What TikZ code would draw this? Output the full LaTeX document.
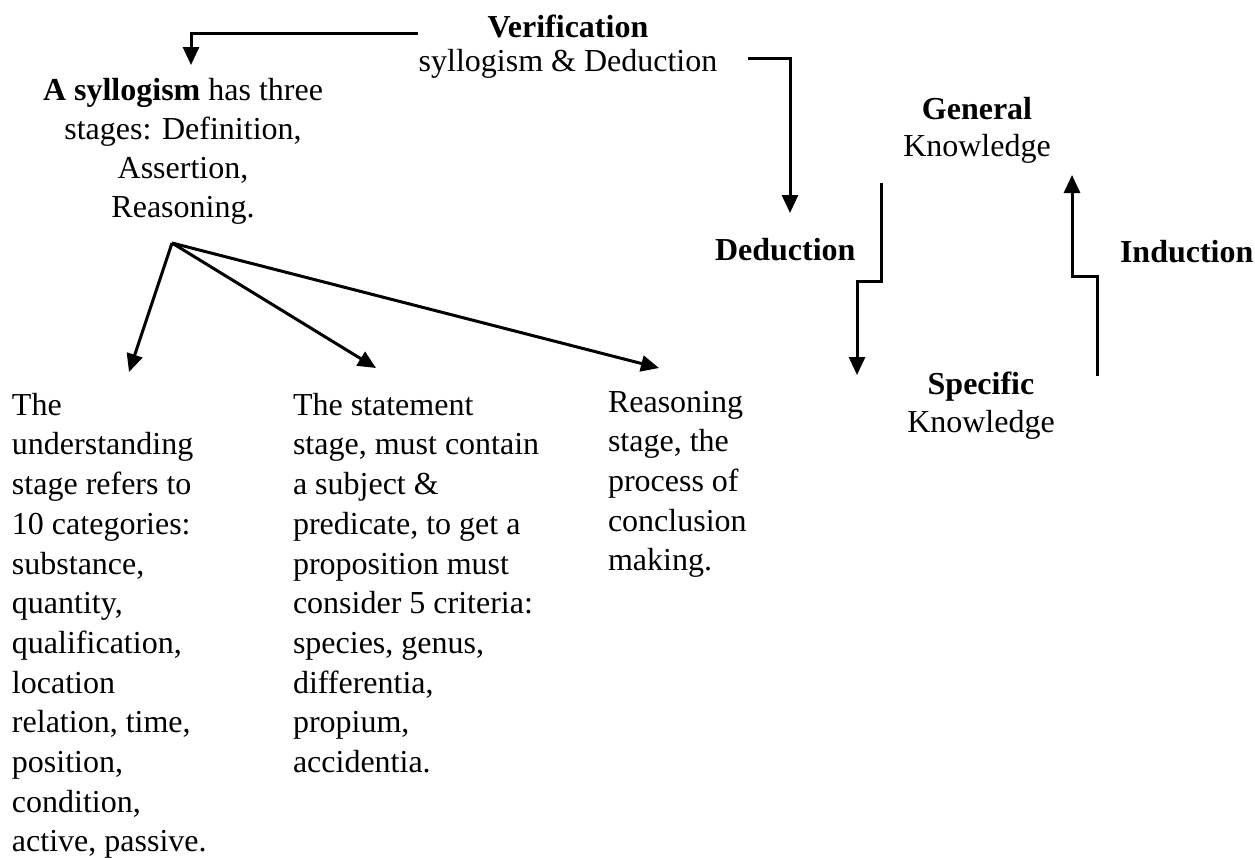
\documentclass[tikz,border=0pt]{standalone}
\usepackage{fontspec}
\setmainfont{Liberation Serif}
\usetikzlibrary{arrows.meta}
\begin{document}
\begin{tikzpicture}[x=1pt,y=-1pt,
  txt/.style={inner sep=0pt, outer sep=0pt, font=\fontsize{32}{#1}\selectfont},
  txt/.default=40,
  arr/.style={-{Triangle[length=18pt,width=16pt]}, line width=3pt, line join=miter},
]
\useasboundingbox (0,0) rectangle (1255,857);

% text blocks
\node[txt=34, align=center, anchor=north] (verif) at (568,15) {\textbf{Verification}\\syllogism \& Deduction};
\node[txt=39, align=center, anchor=north] (syl) at (183,78) {\textbf{A syllogism} has three\\stages: Definition,\\Assertion,\\Reasoning.};
\node[txt=39.7, align=left, anchor=north west] (c1) at (12,393) {The\\understanding\\stage refers to\\10 categories:\\substance,\\quantity,\\qualification,\\location\\relation, time,\\position,\\condition,\\active, passive.};
\node[txt=39.7, align=left, anchor=north west] (c2) at (293,393) {The statement\\stage, must contain\\a subject \&\\predicate, to get a\\proposition must\\consider 5 criteria:\\species, genus,\\differentia,\\propium,\\accidentia.};
\node[txt=39.7, align=left, anchor=north west] (c3) at (608,391) {Reasoning\\stage, the\\process of\\conclusion\\making.};
\node[txt=37, align=center, anchor=north] (gen) at (977,97) {\textbf{General}\\Knowledge};
\node[txt=38, align=center, anchor=north] (spec) at (981,372) {\textbf{Specific}\\Knowledge};
\node[txt, anchor=base west, font=\fontsize{32}{40}\selectfont\bfseries] (ded) at (715,260) {Deduction};
\node[txt, anchor=base west, font=\fontsize{32}{40}\selectfont\bfseries] (ind) at (1120,262) {Induction};

% connector end points
\coordinate (t1) at (418,33);
\coordinate (t2) at (191,65);
\coordinate (r1) at (748,58);
\coordinate (r2) at (790,213);
\coordinate (d1) at (881,183);
\coordinate (db) at (881,281);
\coordinate (d2) at (857,375);
\coordinate (i1) at (1097,376);
\coordinate (ib) at (1097,276);
\coordinate (i2) at (1072,175);
\coordinate (fork) at (172,243);
\coordinate (k1) at (129,372);
\coordinate (k2) at (376,368);
\coordinate (k3) at (659,368);

% connectors
\draw[arr] (t1) -| (t2);
\draw[arr] (r1) -| (r2);
\draw[arr] (d1) -- (db) -| (d2);
\draw[arr] (i1) -- (ib) -| (i2);
\draw[arr] (fork) -- (k1);
\draw[arr] (fork) -- (k2);
\draw[arr] (fork) -- (k3);
\end{tikzpicture}
\end{document}
